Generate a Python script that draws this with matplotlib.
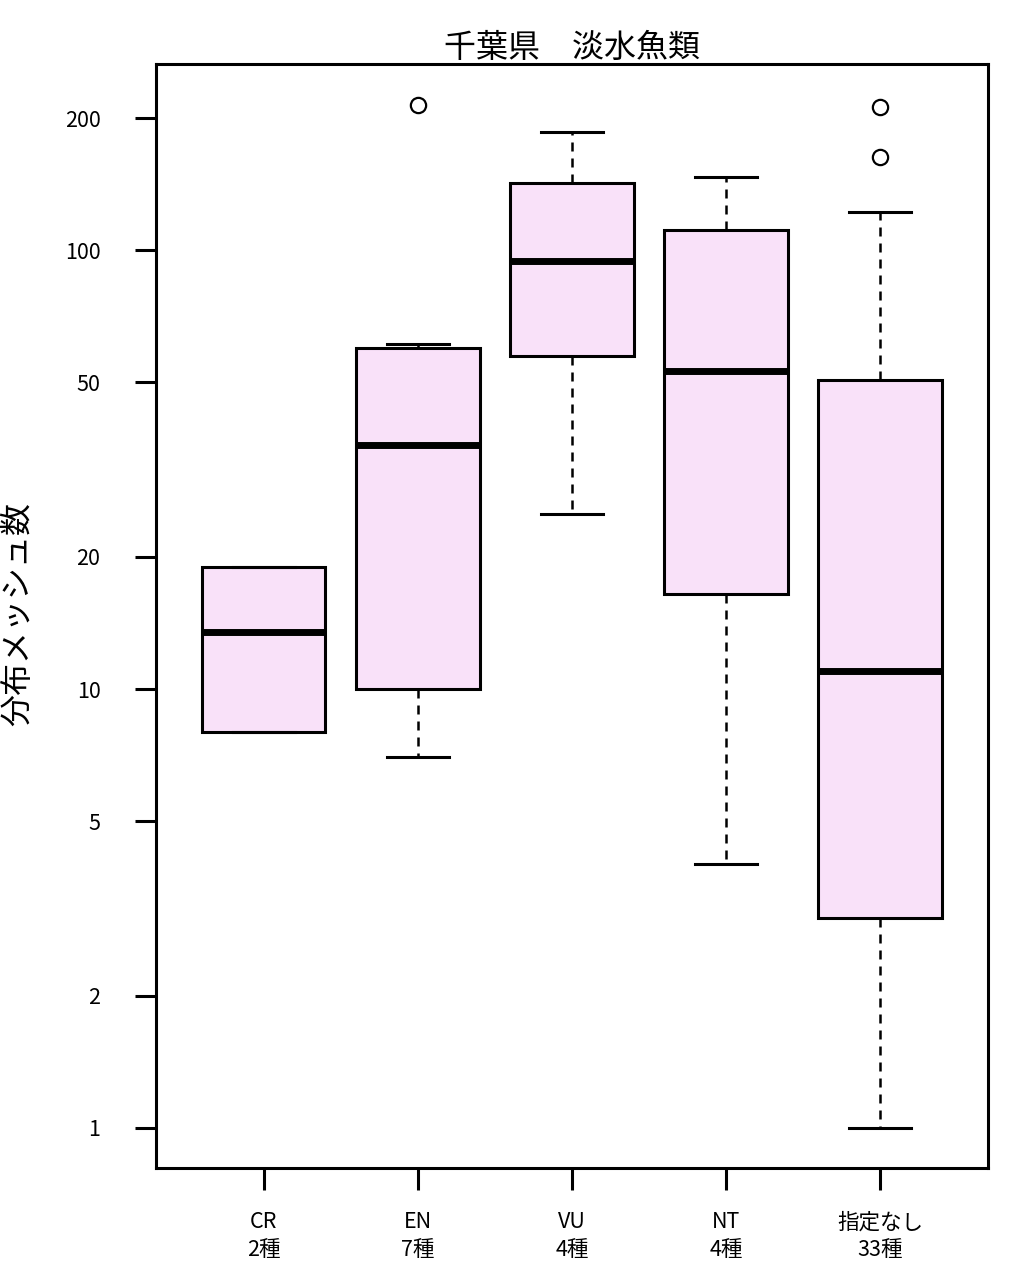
import numpy as np
import matplotlib
matplotlib.use("Agg")
import matplotlib.pyplot as plt

plt.rcParams['font.family'] = ['Noto Sans CJK JP', 'DejaVu Sans']

# 分布メッシュ数の箱ひげ図 (千葉県 淡水魚類)
categories = ["CR", "EN", "VU", "NT", "指定なし"]
n_species = [2, 7, 4, 4, 33]
whislo = [8, 7, 25, 4, 1]
q1 = [8, 10, 57.4, 16.5, 3]
med = [13.5, 36, 94.4, 53, 11]
q3 = [19, 60, 142, 111, 50.6]
whishi = [19, 61, 186, 147, 122]
fliers = [[], [214], [], [], [212, 163]]

stats = []
for i in range(len(categories)):
    stats.append(dict(whislo=whislo[i], q1=q1[i], med=med[i], q3=q3[i],
                      whishi=whishi[i], fliers=fliers[i]))

fig = plt.figure(figsize=(10.18, 12.76), dpi=100)
ax = fig.add_axes([0.1532, 0.0846, 0.9705 - 0.1532, 0.9498 - 0.0846])

pos = np.arange(1, len(categories) + 1)
ax.bxp(stats, positions=pos, widths=0.8, patch_artist=True,
       boxprops=dict(facecolor="#F9E1F9", edgecolor="black", linewidth=2.2),
       medianprops=dict(color="black", linewidth=5, solid_capstyle="butt"),
       whiskerprops=dict(color="black", linewidth=1.8, linestyle=(0, (3.6, 2.8))),
       capprops=dict(color="black", linewidth=2.2),
       capwidths=0.4,
       flierprops=dict(marker="o", markersize=11, markerfacecolor="none",
                       markeredgecolor="black", markeredgewidth=1.6))

ax.set_yscale("log")
ax.set_ylim(10 ** -0.0915, 10 ** 2.424)
ax.set_xlim(0.3, 5.7)

yticks = [1, 2, 5, 10, 20, 50, 100, 200]
ax.set_yticks(yticks)
ax.set_yticklabels([str(v) for v in yticks])
ax.yaxis.set_minor_locator(matplotlib.ticker.NullLocator())
ax.set_xticks(pos)
ax.set_xticklabels([f"{c}\n{n}種" for c, n in zip(categories, n_species)],
                   linespacing=1.35)

ax.tick_params(axis="y", length=15, width=2.2, pad=25, labelsize=15.5)
ax.tick_params(axis="x", length=16, width=2.2, pad=15, labelsize=15.5)
for s in ax.spines.values():
    s.set_linewidth(2.2)

ax.set_title("千葉県　淡水魚類", fontsize=23, pad=4)
ax.set_ylabel("分布メッシュ数", fontsize=23)
ax.yaxis.set_label_coords(-0.146, 0.502)

fig.savefig("out.png", dpi=100)
